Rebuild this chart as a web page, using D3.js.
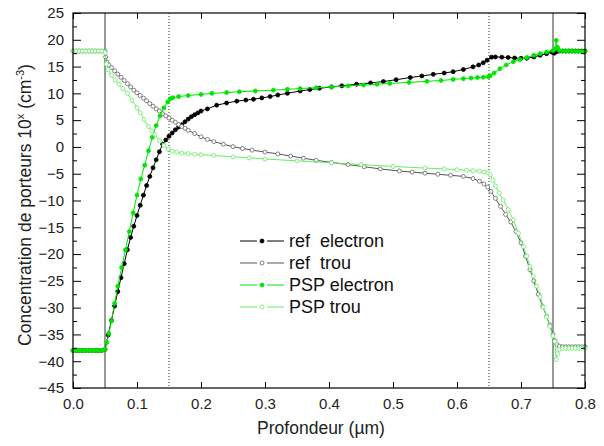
<!DOCTYPE html>
<html><head><meta charset="utf-8">
<script src="https://cdn.jsdelivr.net/npm/d3@7/dist/d3.min.js"></script>
<style>body{margin:0;background:#fff} text{font-family:Arial,"Liberation Sans",sans-serif}</style>
</head><body><svg id="c" width="604" height="446"></svg>
<script>
// ---- data (x in µm, y = log10 concentration) ----
const refElectron = [[0,-38],[0.005,-38],[0.01,-38],[0.015,-38],[0.02,-38],[0.025,-38],[0.03,-38],[0.035,-38],[0.04,-38],[0.045,-38],[0.05,-37.8],
[0.055,-35.1],[0.06,-32.4],[0.065,-29.7],[0.07,-27.0],[0.075,-24.4],[0.08,-21.8],[0.085,-19.2],[0.09,-16.9],[0.095,-14.8],[0.1,-12.8],[0.105,-10.9],[0.11,-9.0],[0.115,-7.2],[0.12,-5.5],[0.125,-3.9],[0.13,-2.4],[0.135,-0.9],[0.14,0.5],
[0.145,1.3],[0.15,2.0],[0.155,2.6],[0.16,3.2],[0.165,3.7],[0.17,4.15],[0.175,4.7],[0.18,5.2],[0.185,5.65],[0.19,6.0],[0.195,6.35],[0.2,6.7],
[0.21,7.1],[0.2245,7.8],[0.24,8.2],[0.256,8.55],[0.27,8.75],[0.282,8.9],[0.295,9.15],[0.308,9.4],[0.32,9.7],[0.335,10.0],[0.355,10.45],[0.37,10.7],[0.385,10.95],[0.404,11.2],[0.42,11.4],[0.443,11.7],[0.465,11.95],[0.485,12.2],[0.505,12.55],[0.527,12.95],[0.545,13.25],[0.563,13.55],[0.58,13.8],[0.594,14.05],[0.61,14.45],[0.625,14.95],[0.634,15.3],[0.641,15.7],[0.647,16.2],[0.654,16.75],
[0.66,16.8],[0.67,16.75],[0.68,16.7],[0.69,16.6],[0.7,16.55],[0.709,16.55],[0.72,16.8],[0.73,17.1],[0.74,17.4],[0.748,17.7],[0.752,17.5],[0.756,17.8],[0.76,17.9],[0.765,17.9],[0.77,17.9],[0.775,17.9],[0.78,17.9],[0.785,17.9],[0.79,17.9],[0.795,17.9],[0.8,17.9]];

const refTrou = [[0,17.9],[0.005,17.9],[0.01,17.9],[0.015,17.9],[0.02,17.9],[0.025,17.9],[0.03,17.9],[0.035,17.9],[0.04,17.9],[0.045,17.9],[0.05,17.9],
[0.051,16.8],[0.053,15.8],[0.056,15.3],[0.06,14.8],[0.065,14.2],[0.07,13.6],[0.075,13.0],[0.08,12.4],[0.085,11.8],[0.09,11.2],[0.095,10.6],[0.1,10.1],[0.105,9.6],[0.11,9.1],[0.115,8.6],[0.12,8.1],[0.125,7.6],[0.13,7.1],[0.135,6.7],[0.14,6.2],[0.145,5.8],[0.15,5.4],[0.155,5.0],[0.16,4.6],[0.165,4.2],[0.17,3.8],[0.175,3.5],[0.18,3.1],[0.19,2.5],[0.2,1.9],[0.21,1.4],[0.22,1.0],[0.235,0.5],[0.25,0.05],[0.265,-0.3],[0.28,-0.6],[0.3,-0.95],
[0.32,-1.3],[0.34,-1.7],[0.36,-2.1],[0.38,-2.5],[0.404,-2.9],[0.43,-3.3],[0.455,-3.7],[0.48,-4.1],[0.51,-4.5],[0.53,-4.7],[0.55,-4.9],[0.57,-5.1],[0.59,-5.3],[0.61,-5.5],[0.625,-5.9],[0.635,-6.4],[0.642,-6.9],[0.648,-7.5],
[0.653,-8.3],[0.66,-9.6],[0.668,-11.1],[0.676,-12.6],[0.684,-14.0],[0.692,-15.8],[0.7,-17.9],[0.707,-20.4],[0.714,-22.9],[0.72,-25.0],[0.727,-27.5],[0.734,-29.8],[0.74,-31.6],[0.745,-33.2],[0.75,-35.0],[0.753,-36.2],[0.756,-36.9],[0.76,-37.2],[0.765,-37.3],[0.77,-37.3],[0.775,-37.3],[0.78,-37.3],[0.785,-37.3],[0.79,-37.3],[0.795,-37.3],[0.8,-37.3]];

const pspElectron = [[0,-38],[0.005,-38],[0.01,-38],[0.015,-38],[0.02,-38],[0.025,-38],[0.03,-38],[0.035,-38],[0.04,-38],[0.045,-38],[0.05,-37.8],
[0.053,-36.5],[0.056,-34.8],[0.06,-32.5],[0.065,-29.2],[0.07,-26],[0.076,-22.5],[0.082,-19.2],[0.088,-15.8],[0.094,-12.3],[0.1,-9],[0.106,-6],[0.112,-3.4],[0.118,-0.7],[0.124,1.8],[0.13,4.0],[0.136,5.8],[0.142,7.3],[0.148,8.4],[0.152,9.0],
[0.156,9.2],[0.165,9.4],[0.18,9.6],[0.2,9.8],[0.217,10.0],[0.24,10.15],[0.26,10.3],[0.285,10.45],[0.313,10.6],[0.335,10.75],[0.355,10.9],[0.38,11.05],[0.404,11.2],[0.43,11.4],[0.454,11.55],[0.475,11.7],[0.495,11.85],[0.525,12.05],[0.553,12.25],[0.575,12.4],[0.594,12.6],[0.61,12.75],[0.622,12.85],[0.632,12.95],[0.641,13.0],[0.649,13.1],
[0.652,13.3],[0.658,13.8],[0.667,14.6],[0.677,15.3],[0.688,15.9],[0.698,16.3],[0.709,16.7],[0.72,17.1],[0.73,17.4],[0.74,17.7],[0.75,18.0],[0.753,18.3],[0.755,19.9],[0.757,18.6],[0.76,18.0],[0.765,17.9],[0.77,17.9],[0.775,17.9],[0.78,17.9],[0.785,17.85],[0.79,17.85],[0.795,17.8],[0.8,17.8]];

const pspTrou = [[0,17.9],[0.005,17.9],[0.01,17.9],[0.015,17.9],[0.02,17.9],[0.025,17.9],[0.03,17.9],[0.035,17.9],[0.04,17.9],[0.045,17.9],[0.05,17.6],
[0.052,15.5],[0.055,14.4],[0.06,13.4],[0.066,12.5],[0.072,11.7],[0.078,10.9],[0.085,10.0],[0.092,8.7],[0.1,7.3],[0.105,6.4],[0.111,5.1],[0.118,3.8],[0.123,3.0],[0.128,2.3],[0.135,1.2],[0.142,0.3],[0.149,-0.4],[0.155,-0.8],[0.162,-1.0],[0.17,-1.15],[0.18,-1.25],[0.19,-1.35],[0.2,-1.45],
[0.22,-1.6],[0.25,-1.85],[0.275,-2.05],[0.3,-2.25],[0.35,-2.6],[0.404,-2.95],[0.45,-3.3],[0.5,-3.65],[0.55,-3.95],[0.58,-4.1],[0.6,-4.25],[0.615,-4.35],[0.625,-4.45],[0.635,-4.55],[0.642,-4.65],[0.648,-4.8],
[0.652,-5.2],[0.656,-6.2],[0.66,-7.3],[0.666,-8.6],[0.672,-9.9],[0.68,-11.7],[0.688,-13.6],[0.696,-16.1],[0.704,-18.6],[0.709,-20.4],[0.714,-22.3],[0.719,-24.1],[0.7245,-26],[0.73,-28.0],[0.735,-29.9],[0.74,-31.7],[0.745,-33.5],[0.75,-35.3],[0.753,-36.3],[0.755,-39.7],[0.757,-38.6],[0.76,-37.8],[0.765,-37.6],[0.77,-37.6],[0.775,-37.6],[0.78,-37.6],[0.785,-37.6],[0.79,-37.6],[0.795,-37.6],[0.8,-37.6]];

const seriesNames = ["ref  electron","ref  trou","PSP electron","PSP trou"];
const xTicks = [0,0.1,0.2,0.3,0.4,0.5,0.6,0.7,0.8];
const yTicks = [25,20,15,10,5,0,-5,-10,-15,-20,-25,-30,-35,-40,-45];
const yMinorTicks = [22.5,17.5,12.5,7.5,2.5,-2.5,-7.5,-12.5,-17.5,-22.5,-27.5,-32.5,-37.5,-42.5];
const solidLines = [0.05,0.75];
const dottedLines = [0.15,0.65];
const xTitle = "Profondeur (µm)";

// ---- layout ----
const W=604,H=446, L=73, R=585, T=13, B=388;
const svg=d3.select("#c");
const x=d3.scaleLinear().domain([0,0.8]).range([L,R]);
const y=d3.scaleLinear().domain([-45,25]).range([B,T]);

const series=[
 {data:refElectron, line:"#000", stroke:"#000", fill:"#000"},
 {data:refTrou, line:"#555", stroke:"#666", fill:"#fff"},
 {data:pspElectron, line:"#00e600", stroke:"#00e600", fill:"#00e600"},
 {data:pspTrou, line:"#66ee66", stroke:"#66ee66", fill:"#fff"}
];

// reference lines
svg.selectAll(".vs").data(solidLines).enter().append("line")
 .attr("x1",d=>x(d)).attr("x2",d=>x(d)).attr("y1",T).attr("y2",B)
 .attr("stroke","#333").attr("stroke-width",1);
svg.selectAll(".vd").data(dottedLines).enter().append("line")
 .attr("x1",d=>x(d)).attr("x2",d=>x(d)).attr("y1",T).attr("y2",B)
 .attr("stroke","#333").attr("stroke-width",1).attr("stroke-dasharray","1,2");

const lineGen=d3.line().x(d=>x(d[0])).y(d=>y(d[1]));
series.forEach(s=>{
  const g=svg.append("g");
  g.append("path").attr("d",lineGen(s.data)).attr("fill","none").attr("stroke",s.line).attr("stroke-width",1);
  g.selectAll("circle").data(s.data).enter().append("circle")
   .attr("cx",d=>x(d[0])).attr("cy",d=>y(d[1])).attr("r",2)
   .attr("fill",s.fill).attr("stroke",s.stroke).attr("stroke-width",0.8);
});

// axes
function style(g){g.select(".domain").remove();g.selectAll("line").attr("stroke","#000");
  g.selectAll("text").attr("font-size","15px").attr("fill","#222");}
svg.append("g").attr("transform",`translate(0,${B})`)
 .call(d3.axisBottom(x).tickValues(xTicks).tickSize(-6).tickPadding(10).tickFormat(d3.format(".1f"))).call(style);
svg.append("g").attr("transform",`translate(0,${T})`)
 .call(d3.axisTop(x).tickValues(xTicks).tickSize(-6).tickFormat("")).call(style);
svg.append("g").attr("transform",`translate(${L},0)`)
 .call(d3.axisLeft(y).tickValues(yTicks).tickSize(-8).tickPadding(9).tickFormat(d3.format("d"))).call(style);
svg.append("g").attr("transform",`translate(${L},0)`)
 .call(d3.axisLeft(y).tickValues(yMinorTicks).tickSize(-4).tickFormat("")).call(style);
svg.append("g").attr("transform",`translate(${R},0)`)
 .call(d3.axisRight(y).tickValues(yTicks).tickSize(-8).tickFormat("")).call(style);
svg.append("g").attr("transform",`translate(${R},0)`)
 .call(d3.axisRight(y).tickValues(yMinorTicks).tickSize(-4).tickFormat("")).call(style);

svg.append("rect").attr("x",L).attr("y",T).attr("width",R-L).attr("height",B-T)
 .attr("fill","none").attr("stroke","#000").attr("stroke-width",1.2);

// titles
svg.append("text").attr("x",321).attr("y",434).attr("text-anchor","middle")
 .attr("font-size","17.5px").attr("fill","#222").text(xTitle);
const yt=svg.append("text").attr("transform",`translate(31,205) rotate(-90)`).attr("text-anchor","middle")
 .attr("font-size","17.5px").attr("fill","#222");
yt.append("tspan").text("Concentration de porteurs 10");
yt.append("tspan").attr("font-size","11px").attr("dy","-7").text("x");
yt.append("tspan").attr("dy","7").text(" (cm");
yt.append("tspan").attr("font-size","11px").attr("dy","-7").text("-3");
yt.append("tspan").attr("dy","7").text(")");

// legend
const lg=svg.append("g");
seriesNames.forEach((n,i)=>{
  const s=series[i], cy=241+i*22;
  lg.append("line").attr("x1",240).attr("x2",257).attr("y1",cy).attr("y2",cy).attr("stroke",s.line);
  lg.append("line").attr("x1",267).attr("x2",284).attr("y1",cy).attr("y2",cy).attr("stroke",s.line);
  lg.append("circle").attr("cx",262).attr("cy",cy).attr("r",2).attr("fill",s.fill).attr("stroke",s.stroke).attr("stroke-width",0.8);
  lg.append("text").attr("x",289).attr("y",cy+6).attr("font-size","18px").attr("fill","#111").attr("xml:space","preserve").style("white-space","pre").text(n);
});
</script></body></html>
